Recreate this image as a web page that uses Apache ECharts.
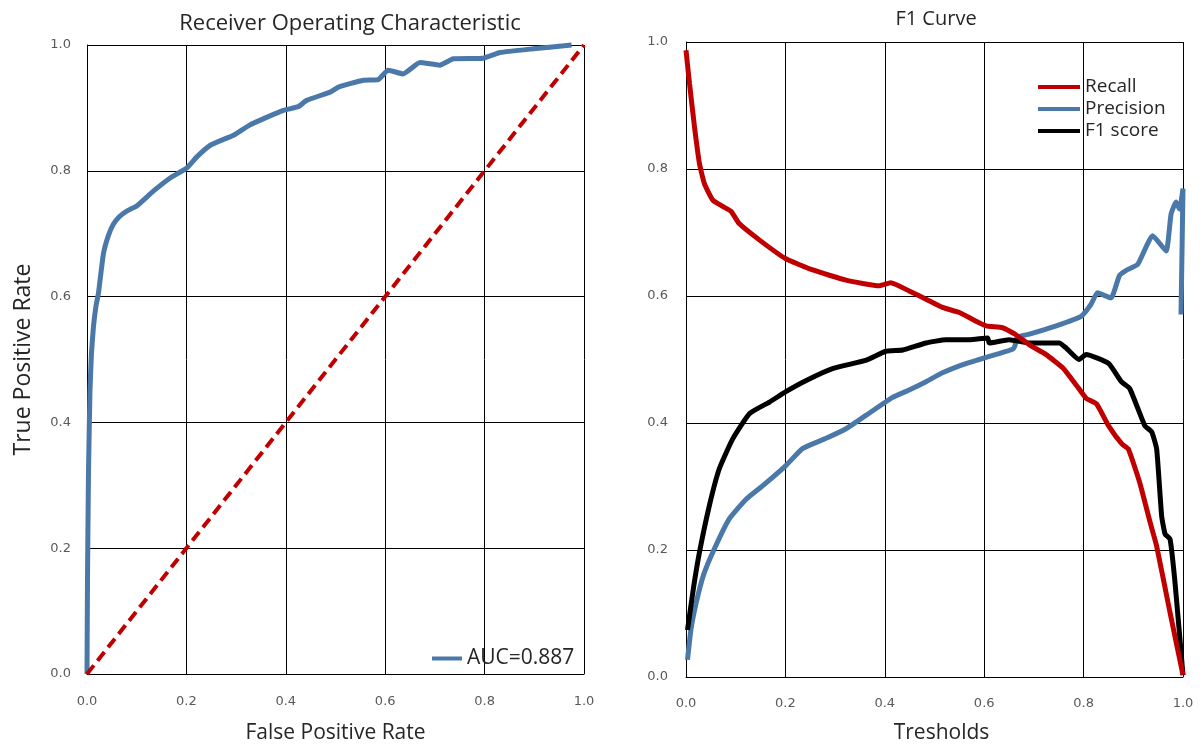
<!DOCTYPE html>
<html>
<head>
<meta charset="utf-8">
<title>ROC and F1 curves</title>
<script src="https://cdn.jsdelivr.net/npm/echarts@6/dist/echarts.min.js"></script>
<style>
html, body { margin: 0; padding: 0; background: #fff; }
#chart { width: 1204px; height: 749px; }
</style>
</head>
<body>
<div id="chart"></div>
<script>
// ROC curve (false positive rate / true positive rate)
const rocFpr = [0, 0.001, 0.003, 0.006, 0.009, 0.013, 0.018, 0.023, 0.033, 0.043, 0.053, 0.065, 0.08, 0.1,
  0.134, 0.168, 0.2, 0.222, 0.249, 0.296, 0.328, 0.35, 0.395, 0.425, 0.442, 0.489, 0.506, 0.556, 0.586,
  0.606, 0.636, 0.67, 0.71, 0.737, 0.797, 0.831, 0.898, 0.975];
const rocTpr = [0, 0.15, 0.32, 0.45, 0.51, 0.552, 0.585, 0.605, 0.668, 0.697, 0.715, 0.727, 0.736, 0.744,
  0.768, 0.789, 0.804, 0.823, 0.841, 0.857, 0.873, 0.881, 0.896, 0.902, 0.912, 0.925, 0.933, 0.944, 0.945,
  0.96, 0.954, 0.972, 0.968, 0.978, 0.979, 0.988, 0.994, 1.0];
const chanceFpr = [0, 1];
const chanceTpr = [0, 1];
const aucLabel = 'AUC=0.887';

// F1 curve, each curve sampled at its own thresholds
const recallT = [0, 0.007, 0.017, 0.027, 0.037, 0.054, 0.074, 0.091, 0.107, 0.148, 0.2, 0.255, 0.322, 0.389,
  0.412, 0.449, 0.483, 0.516, 0.55, 0.577, 0.604, 0.637, 0.664, 0.691, 0.724, 0.758, 0.785, 0.805, 0.826,
  0.85, 0.877, 0.89, 0.913, 0.934, 0.947, 0.974, 1.0];
const recallV = [0.987, 0.935, 0.867, 0.809, 0.777, 0.751, 0.741, 0.733, 0.714, 0.688, 0.659, 0.641, 0.625, 0.616,
  0.621, 0.608, 0.595, 0.582, 0.574, 0.563, 0.553, 0.55, 0.539, 0.523, 0.508, 0.487, 0.46, 0.439, 0.43,
  0.396, 0.367, 0.359, 0.306, 0.243, 0.206, 0.101, 0.003];

const precisionT = [0.003, 0.01, 0.02, 0.035, 0.056, 0.087, 0.121, 0.154, 0.201, 0.235, 0.282, 0.322, 0.362,
  0.415, 0.449, 0.483, 0.516, 0.557, 0.59, 0.624, 0.657, 0.662, 0.666, 0.691, 0.745, 0.795, 0.815, 0.828,
  0.855, 0.872, 0.885, 0.909, 0.939, 0.966, 0.976, 0.986, 0.993, 1.0, 0.996];
const precisionV = [0.027, 0.075, 0.115, 0.16, 0.2, 0.249, 0.28, 0.301, 0.333, 0.36, 0.376, 0.391, 0.412,
  0.44, 0.452, 0.465, 0.479, 0.492, 0.5, 0.508, 0.516, 0.522, 0.535, 0.54, 0.553, 0.568, 0.587, 0.605,
  0.597, 0.632, 0.64, 0.65, 0.695, 0.671, 0.729, 0.748, 0.737, 0.769, 0.571];

const f1T = [0.003, 0.015, 0.027, 0.047, 0.067, 0.094, 0.128, 0.168, 0.2, 0.242, 0.296, 0.363, 0.402, 0.436,
  0.483, 0.523, 0.57, 0.607, 0.61, 0.65, 0.691, 0.751, 0.765, 0.791, 0.805, 0.85, 0.876, 0.893, 0.923,
  0.937, 0.947, 0.957, 0.964, 0.974, 0.984, 1.0];
const f1V = [0.074, 0.14, 0.196, 0.27, 0.328, 0.375, 0.415, 0.433, 0.449, 0.467, 0.486, 0.499, 0.513, 0.515,
  0.526, 0.531, 0.531, 0.534, 0.526, 0.531, 0.526, 0.526, 0.518, 0.5, 0.508, 0.494, 0.465, 0.454, 0.396,
  0.386, 0.359, 0.254, 0.225, 0.217, 0.148, 0.003];

const curveNames = ['Recall', 'Precision', 'F1 score'];

const BLUE = '#4a78a8';
const RED = '#c00000';
const TEXT = '#262626';
const nameFont = 'Open Sans';

function pairs(xs, ys) {
  return xs.map((x, i) => [x, ys[i]]);
}

function tickLabels(margin) {
  return {
    color: '#595959',
    fontFamily: 'DejaVu Sans',
    fontSize: 13,
    margin: margin,
    formatter: v => v.toFixed(1)
  };
}

function unitAxis(gridIndex, extra) {
  return Object.assign({
    type: 'value',
    gridIndex: gridIndex,
    min: 0,
    max: 1,
    interval: 0.2,
    axisLine: { show: true, onZero: false, lineStyle: { color: '#000', width: 1 } },
    axisTick: { show: false },
    splitLine: { show: true, lineStyle: { color: '#000', width: 1 } },
    axisLabel: tickLabels(14),
    nameLocation: 'middle',
    nameTextStyle: { color: TEXT, fontFamily: nameFont, fontSize: 21 }
  }, extra);
}

function curve(name, xs, ys, color, grid) {
  return {
    name: name,
    type: 'line',
    xAxisIndex: grid,
    yAxisIndex: grid,
    data: pairs(xs, ys),
    showSymbol: false,
    symbol: 'none',
    smooth: 0.15,
    clip: false,
    color: color,
    lineStyle: { color: color, width: 5 }
  };
}

const chart = echarts.init(document.getElementById('chart'));

chart.setOption({
  animation: false,
  backgroundColor: '#fff',
  title: [
    {
      text: 'Receiver Operating Characteristic',
      left: 345, top: 8, textAlign: 'center',
      textStyle: { fontFamily: nameFont, fontSize: 22, fontWeight: 'normal', color: TEXT }
    },
    {
      text: 'F1 Curve',
      left: 931, top: 4, textAlign: 'center',
      textStyle: { fontFamily: nameFont, fontSize: 20, fontWeight: 'normal', color: TEXT }
    }
  ],
  grid: [
    { left: 87, top: 45, width: 497, height: 635 },
    { left: 686, top: 42, width: 497, height: 635 }
  ],
  xAxis: [
    unitAxis(0, { name: 'False Positive Rate', nameGap: 49, axisLabel: tickLabels(21) }),
    unitAxis(1, { name: 'Tresholds', nameGap: 46, axisLabel: tickLabels(20),
      nameTextStyle: { color: TEXT, fontFamily: nameFont, fontSize: 21, padding: [0, 0, 0, 14] } })
  ],
  yAxis: [
    unitAxis(0, { name: 'True Positive Rate', nameGap: 52, axisLabel: tickLabels(16),
      nameTextStyle: { color: TEXT, fontFamily: nameFont, fontSize: 23 } }),
    unitAxis(1, { axisLabel: tickLabels(18) })
  ],
  legend: [
    {
      data: [aucLabel],
      left: 432, top: 648, padding: 0,
      icon: 'rect', itemWidth: 30, itemHeight: 4,
      textStyle: { fontFamily: nameFont, fontSize: 21, color: TEXT }
    },
    {
      data: curveNames,
      orient: 'vertical',
      left: 1038, top: 77, padding: 0,
      icon: 'rect', itemWidth: 42, itemHeight: 4, itemGap: 2,
      textStyle: { fontFamily: nameFont, fontSize: 19, lineHeight: 20, color: TEXT }
    }
  ],
  series: [
    curve(aucLabel, rocFpr, rocTpr, BLUE, 0),
    {
      name: 'chance',
      type: 'line',
      xAxisIndex: 0,
      yAxisIndex: 0,
      data: pairs(chanceFpr, chanceTpr),
      symbol: 'none',
      clip: false,
      color: RED,
      lineStyle: { color: RED, width: 4, type: [11, 6] }
    },
    curve('Precision', precisionT, precisionV, BLUE, 1),
    curve('F1 score', f1T, f1V, '#000000', 1),
    curve('Recall', recallT, recallV, RED, 1)
  ]
});
</script>
</body>
</html>
